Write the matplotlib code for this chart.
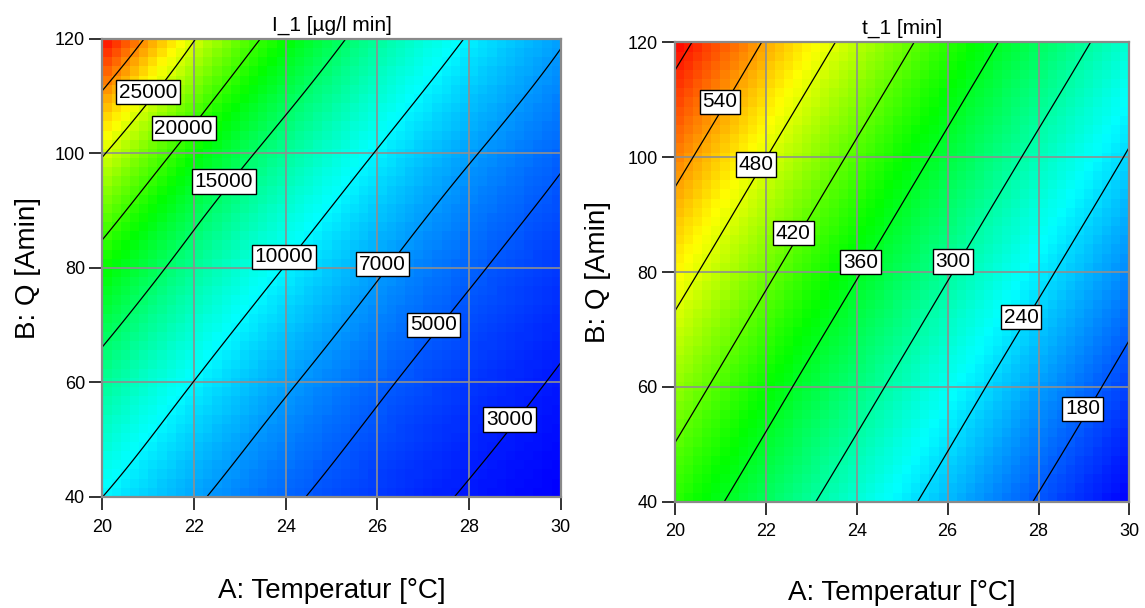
import numpy as np
import matplotlib
matplotlib.use("Agg")
import matplotlib.pyplot as plt
import matplotlib.tri as mtri
from matplotlib.colors import LinearSegmentedColormap
from matplotlib.transforms import ScaledTranslation

plt.rcParams["font.family"] = ["Liberation Sans", "DejaVu Sans"]

# Factor settings of the design grid
temperature = [20, 22, 24, 26, 28, 30]      # A: Temperatur [°C]
flow_q = [40, 60, 80, 100, 120]             # B: Q [Amin]

# Response I_1 [µg/l min]; rows follow flow_q, columns follow temperature
i1_values = [
    [10000, 7310, 5345, 3907, 2856, 2088],
    [13616, 9954, 7277, 5320, 3889, 2843],
    [18539, 13553, 9908, 7243, 5295, 3871],
    [25242, 18453, 13490, 9862, 7210, 5271],
    [34369, 25126, 18367, 13428, 9817, 7177],
]

# Response t_1 [min]; rows follow flow_q, columns follow temperature
t1_values = [
    [394.3, 332.0, 275.1, 223.5, 177.3, 136.4],
    [444.9, 378.5, 317.6, 261.9, 211.6, 166.8],
    [498.5, 428.1, 363.1, 303.4, 249.1, 200.1],
    [555.1, 480.7, 411.6, 347.9, 289.6, 236.6],
    [614.8, 536.4, 463.3, 395.5, 333.1, 276.1],
]

i1_levels = [3000, 5000, 7000, 10000, 15000, 20000, 25000, 30000]
i1_labelled = [25000, 20000, 15000, 10000, 7000, 5000, 3000]
t1_levels = [180, 240, 300, 360, 420, 480, 540, 600]
t1_labelled = [540, 480, 420, 360, 300, 240, 180]

# where the contour labels sit (temperature, Q)
i1_label_spots = [(21.0, 110.0), (21.8, 103.5), (22.7, 94.0), (24.0, 81.0),
                  (26.1, 80.0), (27.2, 69.5), (28.85, 53.0)]
t1_label_spots = [(20.95, 109.0), (21.76, 98.0), (22.6, 86.0), (24.07, 81.0),
                  (26.13, 81.0), (27.59, 71.5), (28.94, 55.5)]

cmap = LinearSegmentedColormap.from_list(
    "de_rainbow", ["#0000ff", "#00ffff", "#00ff00", "#ffff00", "#ff0000"])


def surface_interpolator(values):
    """Cubic interpolator over the design grid (in coded units)."""
    t = np.asarray(temperature, float)
    q = np.asarray(flow_q, float)
    tc = (t - t.min()) / (t.max() - t.min())
    qc = (q - q.min()) / (q.max() - q.min())
    TC, QC = np.meshgrid(tc, qc)
    nq, nt = TC.shape
    tris = []
    for j in range(nq - 1):
        for i in range(nt - 1):
            a = j * nt + i
            b = a + 1
            c = a + nt
            d = c + 1
            tris.append([a, b, d])
            tris.append([a, d, c])
    tri = mtri.Triangulation(TC.ravel(), QC.ravel(), np.array(tris))
    interp = mtri.CubicTriInterpolator(tri, np.asarray(values, float).ravel(),
                                       kind="min_E")

    def evaluate(T, Q):
        u = np.clip((T - t.min()) / (t.max() - t.min()), 1e-9, 1 - 1e-9)
        v = np.clip((Q - q.min()) / (q.max() - q.min()), 1e-9, 1 - 1e-9)
        return np.asarray(interp(u, v))
    return evaluate


def draw_panel(fig, ax, values, levels, labelled, spots, title):
    f = surface_interpolator(values)
    vmin, vmax = np.min(values), np.max(values)

    # coloured cells
    te = np.linspace(temperature[0], temperature[-1], 51)
    qe = np.linspace(flow_q[0], flow_q[-1], 51)
    tcen = 0.5 * (te[1:] + te[:-1])
    qcen = 0.5 * (qe[1:] + qe[:-1])
    TT, QQ = np.meshgrid(tcen, qcen)
    ax.pcolormesh(te, qe, f(TT, QQ), cmap=cmap, vmin=vmin, vmax=vmax,
                  shading="flat", zorder=0.5)

    # contour lines
    tf = np.linspace(temperature[0], temperature[-1], 241)
    qf = np.linspace(flow_q[0], flow_q[-1], 241)
    TF, QF = np.meshgrid(tf, qf)
    cs = ax.contour(TF, QF, f(TF, QF), levels=levels, colors="black",
                    linewidths=0.9, zorder=2)
    texts = ax.clabel(cs, levels=labelled, manual=spots, inline=False,
                      fmt="%d", fontsize=15, zorder=4)
    lift = ScaledTranslation(-2 / 72, 4.5 / 72, fig.dpi_scale_trans)
    for txt in texts:
        txt.set_rotation(0)
        txt.set_transform(ax.transData + lift)
        txt.set_bbox(dict(boxstyle="square,pad=0.13", facecolor="white",
                          edgecolor="black", linewidth=1.0))

    ax.set_xlim(temperature[0], temperature[-1])
    ax.set_ylim(flow_q[0], flow_q[-1])
    ax.set_xticks(temperature)
    ax.set_yticks(flow_q)
    ax.grid(True, color="#8f8f8f", linewidth=1.2)
    for sp in ax.spines.values():
        sp.set_color("#8a8a8a")
        sp.set_linewidth(1.6)
    ax.tick_params(direction="out", length=9.5, width=1.3, color="#222222",
                   labelsize=13)
    ax.tick_params(axis="x", pad=6)
    ax.tick_params(axis="y", pad=3)
    ax.set_title(title, fontsize=15, pad=6)
    ax.set_xlabel("A: Temperatur [°C]", fontsize=20)
    ax.set_ylabel("B: Q [Amin]", fontsize=20)


fig = plt.figure(figsize=(11.45, 6.08), dpi=100)
ax1 = fig.add_axes([0.0895, 0.1826, 0.4003, 0.7533])
ax2 = fig.add_axes([0.5895, 0.1748, 0.3969, 0.7556])

draw_panel(fig, ax1, i1_values, i1_levels, i1_labelled, i1_label_spots,
           "I_1 [µg/l min]")
draw_panel(fig, ax2, t1_values, t1_levels, t1_labelled, t1_label_spots,
           "t_1 [min]")

ax1.xaxis.set_label_coords(0.5, -0.177)
ax2.xaxis.set_label_coords(0.5, -0.170)
ax1.yaxis.set_label_coords(-0.134, 0.5)
ax2.yaxis.set_label_coords(-0.141, 0.5)

fig.savefig("out.png", dpi=100)
